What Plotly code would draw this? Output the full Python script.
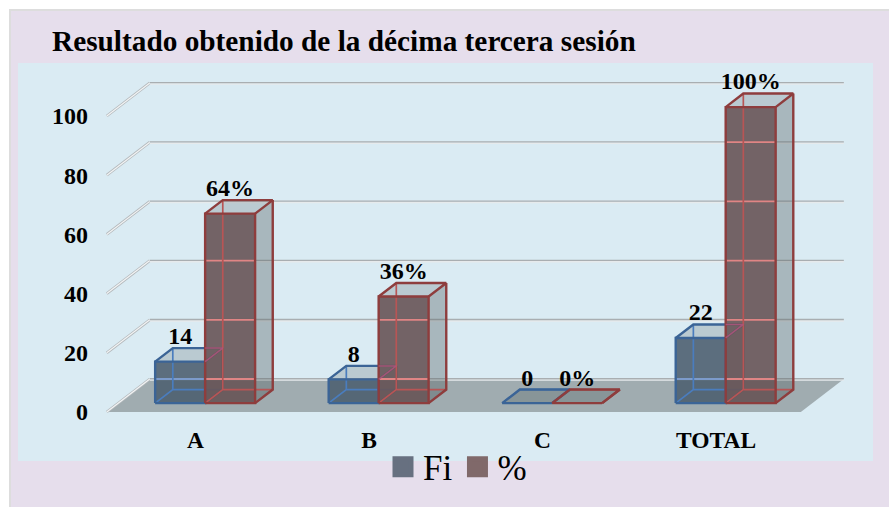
import plotly.graph_objects as go

# Chart data
categories = ['A', 'B', 'C', 'TOTAL']
fi_values = [14, 8, 0, 22]
pct_values = [64, 36, 0, 100]
y_ticks = [0, 20, 40, 60, 80, 100]

# Fake 3D set-up, one unit of depth moves a point right and up
WIDTH, HEIGHT = 889, 507
DEPTH_X = 0.248
DEPTH_Y = 11.15
BAR_W = 0.288
D_FRONT = 0.27
D_BACK = 0.68
FONT = 'Liberation Serif'


def project(x, v, d):
    return x + d * DEPTH_X, v + d * DEPTH_Y


def add_path(fig, points, closed=False, fill=None, color=None, width=0, dash=None):
    xs, ys = [], []
    for p in points:
        if p is None:
            xs.append(None)
            ys.append(None)
        else:
            px, py = project(*p)
            xs.append(px)
            ys.append(py)
    if closed:
        xs.append(xs[0])
        ys.append(ys[0])
    fig.add_trace(go.Scatter(
        x=xs, y=ys, mode='lines',
        fill='toself' if fill else None,
        fillcolor=fill,
        line=dict(color=color or 'rgba(0,0,0,0)', width=width, dash=dash),
        showlegend=False, hoverinfo='skip'
    ))


def add_bar(fig, i, offset, h, face, dark, light, band):
    l = i + offset
    r = l + BAR_W
    # back edges seen through the box
    add_path(fig, [(l, 0, D_FRONT), (r, 0, D_FRONT), (r, 0, D_BACK), (l, 0, D_BACK)],
             closed=True, fill='rgba(93,105,108,0.12)')
    # right side and top
    add_path(fig, [(r, 0, D_FRONT), (r, h, D_FRONT), (r, h, D_BACK), (r, 0, D_BACK)],
             closed=True, fill='rgba(93,105,108,0.4)')
    add_path(fig, [(l, h, D_FRONT), (r, h, D_FRONT), (r, h, D_BACK), (l, h, D_BACK)],
             closed=True, fill='rgba(93,105,108,0.25)')
    if h > 0:
        add_path(fig, [(l, 0, D_FRONT), (r, 0, D_FRONT), (r, h, D_FRONT), (l, h, D_FRONT)],
                 closed=True, fill=face)
    # wall lines showing through the front face
    for v in y_ticks:
        if v + DEPTH_Y < h + D_FRONT * DEPTH_Y:
            level = v + DEPTH_Y - D_FRONT * DEPTH_Y
            add_path(fig, [(l, level, D_FRONT), (r, level, D_FRONT)], color=band, width=1.8)
    # inner edges
    add_path(fig, [(l, 0, D_BACK), (l, h, D_BACK), None,
                   (l, 0, D_FRONT), (l, 0, D_BACK), (r, 0, D_BACK)],
             color=light, width=1.7)
    # outer edges
    add_path(fig, [(l, 0, D_FRONT), (l, h, D_FRONT), (r, h, D_FRONT), (r, 0, D_FRONT),
                   (l, 0, D_FRONT), None,
                   (l, h, D_FRONT), (l, h, D_BACK), (r, h, D_BACK), (r, h, D_FRONT), None,
                   (r, h, D_BACK), (r, 0, D_BACK), (r, 0, D_FRONT)],
             color=dark, width=2.4)


fig = go.Figure()

# Floor
add_path(fig, [(-0.5, 0, 0), (3.5, 0, 0), (3.5, 0, 1), (-0.5, 0, 1)],
         closed=True, fill='#A0ACB0')

# Wall grid lines
for v in y_ticks:
    add_path(fig, [(-0.5, v, 0), (-0.5, v, 1)], color='#B4B9BC', width=2.8)
    add_path(fig, [(-0.5, v, 0), (-0.5, v, 1)], color='#F2F4F5', width=1.2)
    add_path(fig, [(-0.5, v - 0.35, 1), (3.5, v - 0.35, 1)], color='#E6EAEC', width=1.6)
    add_path(fig, [(-0.5, v + 0.1, 1), (3.5, v + 0.1, 1)], color='#A9AEB1', width=1.3)

# Bars, blue series first so the red one sits over it
for i in range(len(categories)):
    add_bar(fig, i, -BAR_W, fi_values[i], 'rgba(78,96,113,0.9)', '#3B6496', '#4A7DBE', '#7C9BCB')
for i in range(len(categories)):
    add_bar(fig, i, 0, pct_values[i], 'rgba(103,84,86,0.9)', '#8E3D3D', '#B85555', '#E08585')

# Blue box edges seen through the red box
for i in range(len(categories)):
    h = fi_values[i]
    if h > 0:
        start = i - (D_BACK - D_FRONT) * DEPTH_X
        add_path(fig, [(i, h, D_FRONT), (i, h, D_BACK), (start, h, D_BACK)],
                 color='rgba(175,85,125,0.85)', width=1.5)

# Value labels
for offset, values, suffix in [(-BAR_W, fi_values, ''), (0, pct_values, '%')]:
    xs, ys, labels = [], [], []
    for i, v in enumerate(values):
        px, py = project(i + offset + BAR_W / 2, v, D_BACK)
        xs.append(px - (D_BACK - D_FRONT) * DEPTH_X)
        ys.append(py + 3.4)
        labels.append(f'{v}{suffix}')
    fig.add_trace(go.Scatter(
        x=xs, y=ys, mode='text', text=labels, textposition='middle center',
        textfont=dict(family=FONT, size=24, color='black', weight=700),
        showlegend=False, hoverinfo='skip'
    ))

# Legend entries
for name, color in [('Fi', '#677080'), ('%', '#80696A')]:
    fig.add_trace(go.Scatter(
        x=[None], y=[None], mode='markers', name=name,
        marker=dict(symbol='square', size=16, color=color, line=dict(color=color, width=5))
    ))

fig.update_layout(
    width=WIDTH, height=HEIGHT,
    margin=dict(l=0, r=0, t=0, b=0),
    paper_bgcolor='white',
    plot_bgcolor='rgba(0,0,0,0)',
    title=dict(
        text='<b>Resultado obtenido de la décima tercera sesión</b>',
        x=52 / WIDTH, xanchor='left',
        y=1 - 41 / HEIGHT, yanchor='middle',
        font=dict(family=FONT, size=29.3, color='black')
    ),
    legend=dict(
        orientation='h', x=383 / WIDTH, xanchor='left',
        y=1 - 467 / HEIGHT, yanchor='middle',
        bgcolor='rgba(0,0,0,0)',
        font=dict(family=FONT, size=35, color='black'),
        itemsizing='trace'
    ),
    shapes=[
        dict(type='rect', xref='paper', yref='paper', layer='below',
             x0=10 / WIDTH, x1=1.02, y0=-0.02, y1=1 - 10 / HEIGHT,
             fillcolor='#E6DEEC', line=dict(color='#DDDDDD', width=2)),
        dict(type='rect', xref='paper', yref='paper', layer='below',
             x0=18 / WIDTH, x1=873 / WIDTH, y0=1 - 461 / HEIGHT, y1=1 - 63 / HEIGHT,
             fillcolor='#DAEBF3', line=dict(width=0)),
    ],
    xaxis=dict(
        domain=[18 / WIDTH, 873 / WIDTH],
        range=[-1.0115, 3.916],
        tickmode='array', tickvals=list(range(len(categories))), ticktext=categories,
        tickfont=dict(family=FONT, size=23.5, color='black', weight=700),
        ticklabelshift=2,
        anchor='free', position=1 - 423 / HEIGHT,
        showgrid=False, zeroline=False, showline=False, ticks='', fixedrange=True
    ),
    yaxis=dict(
        domain=[1 - 461 / HEIGHT, 1 - 63 / HEIGHT],
        range=[-16.55, 117.9],
        tickmode='array', tickvals=y_ticks,
        tickfont=dict(family=FONT, size=24, color='black', weight=700),
        anchor='free', position=88 / WIDTH,
        showgrid=False, zeroline=False, showline=False, ticks='', fixedrange=True
    ),
)

fig.write_html(
    "out.html",
    config=dict(displayModeBar=False),
    post_script="document.body.style.margin='0';document.body.style.overflow='hidden';"
)
